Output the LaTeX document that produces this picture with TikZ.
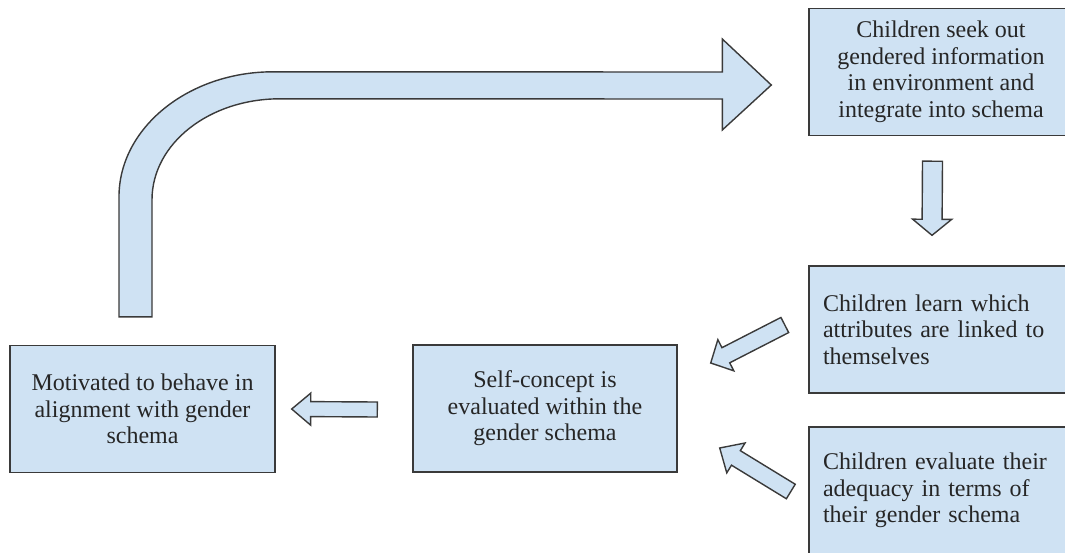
\documentclass[tikz,border=0pt]{standalone}
\usepackage{fontspec}
\setmainfont{Liberation Serif}
\usetikzlibrary{calc}

\definecolor{boxfill}{HTML}{CFE2F3}
\definecolor{boxline}{HTML}{3A3A3A}
\definecolor{boxtext}{HTML}{262626}

\tikzset{
  stagebox/.style={draw=boxline, fill=boxfill, line width=1.4pt, text=boxtext,
    minimum width=264pt, minimum height=127pt, font=\fontsize{24}{26.5}\selectfont},
  leftbox/.style={align=left, text width=236pt, inner xsep=14pt},
  arrowbody/.style={draw=boxline, fill=boxfill, line width=1.4pt, line join=miter},
}

% block arrow: tail, tip, shaft half width, head half width, head length
\newcommand{\blockarrow}[5]{%
  \coordinate (#2-base) at ($(#2)!#5!(#1)$);
  \draw[arrowbody] ($(#1)!#3!90:(#2)$) -- ($(#2-base)!#3!-90:(#1)$)
    -- ($(#2-base)!#4!-90:(#1)$) -- (#2) -- ($(#2-base)!#4!90:(#1)$)
    -- ($(#2-base)!#3!90:(#1)$) -- ($(#1)!#3!-90:(#2)$) -- cycle;
}

\begin{document}
\begin{tikzpicture}[x=1pt,y=-1pt]
\useasboundingbox (0,0) rectangle (1065,552);

% stages
\node[stagebox, align=center] (seek) at (941,72) {Children seek out\\gendered information\\in environment and\\integrate into schema};
\node[stagebox, leftbox] (learn) at (941,329.5) {Children learn which\\attributes are linked to\\themselves};
\node[stagebox, leftbox] (evaluate) at (941,490.5) {Children evaluate their\\adequacy in terms of\\their gender schema};
\node[stagebox, align=center] (selfconcept) at (545,408.5) {Self-concept is\\evaluated within the\\gender schema};
\node[stagebox, align=center, minimum width=265pt] (motive) at (142.5,409) {Motivated to behave in\\alignment with gender\\schema};

% arrow ends
\coordinate (downtail) at ($(seek.south)+(-8.5,25)$);
\coordinate (downtip) at ($(learn.north)+(-9,-30)$);
\coordinate (learntail) at ($(learn.west)+(-23.5,-4.5)$);
\coordinate (learntip) at ($(selfconcept.east)+(33,-45.5)$);
\coordinate (evaltail) at ($(evaluate.west)+(-17.5,1)$);
\coordinate (evaltip) at ($(selfconcept.east)+(42,39.5)$);
\coordinate (selftail) at ($(selfconcept.west)+(-35,1)$);
\coordinate (selftip) at ($(motive.east)+(16,0)$);
\coordinate (bendtail) at ($(motive.north)+(-7,-28)$);
\coordinate (bendtip) at ($(seek.west)+(-37,13)$);

\blockarrow{downtail}{downtip}{10pt}{19.5pt}{16pt}
\blockarrow{learntail}{learntip}{8.5pt}{17.5pt}{17pt}
\blockarrow{evaltail}{evaltip}{8.5pt}{17.5pt}{19pt}
\blockarrow{selftail}{selftip}{7.5pt}{16pt}{19pt}

% bent arrow back to the top
\draw[arrowbody] ($(bendtail)+(-16.5,0)$) -- ++(0,-120)
  .. controls +(0,-69) and +(-84.5,0) .. ++(154,-125)
  -- ($(bendtip)+(-49,-13)$) -- ++(0,-33) -- (bendtip) -- ++(-49,45) -- ++(0,-31)
  -- ($(bendtail)+(144.5,-218)$) .. controls +(-71,0) and +(0,-56) .. ($(bendtail)+(16.5,-117)$)
  -- ($(bendtail)+(16.5,0)$) -- cycle;
\end{tikzpicture}
\end{document}
